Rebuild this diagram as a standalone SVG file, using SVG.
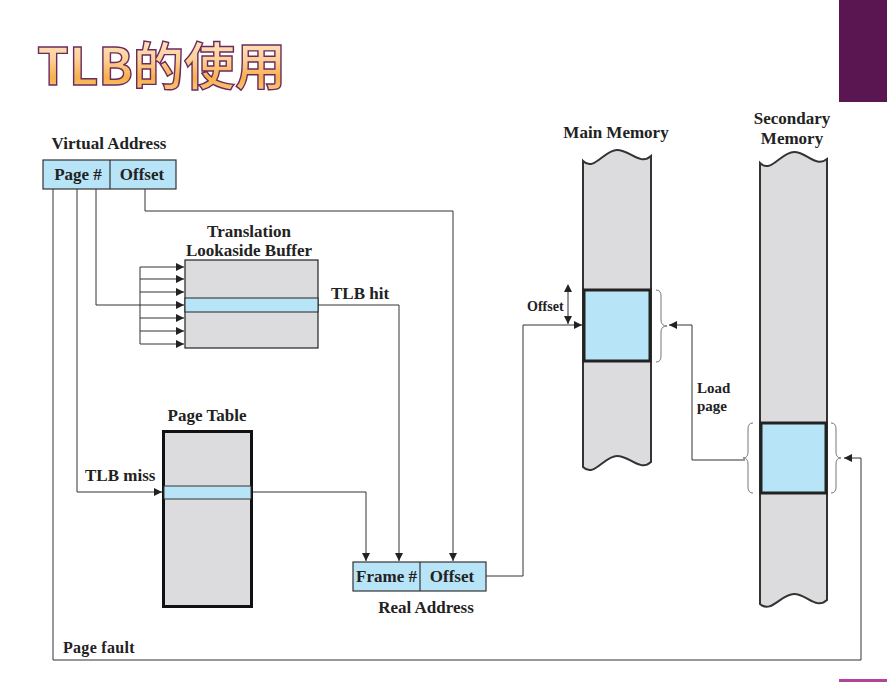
<svg xmlns="http://www.w3.org/2000/svg" width="887" height="682" viewBox="0 0 887 682">
<defs>
<linearGradient id="tg" x1="0" y1="0" x2="0" y2="1">
<stop offset="0" stop-color="#fff1dc"/>
<stop offset="0.45" stop-color="#fcd098"/>
<stop offset="0.7" stop-color="#f7b04a"/>
<stop offset="1" stop-color="#fbd6a0"/>
</linearGradient>
<marker id="ah" viewBox="0 0 10 10" refX="10" refY="5" markerWidth="8" markerHeight="8" markerUnits="userSpaceOnUse" orient="auto">
<path d="M0,0 L10,5 L0,10 z" fill="#222"/>
</marker>
<marker id="as" viewBox="0 0 10 10" refX="0" refY="5" markerWidth="8" markerHeight="8" markerUnits="userSpaceOnUse" orient="auto-start-reverse">
<path d="M0,0 L10,5 L0,10 z" fill="#222"/>
</marker>
</defs>
<style>
text.t{font-family:'Liberation Serif','Times New Roman',Tinos,'DejaVu Serif','Noto Serif',serif;font-weight:700;fill:#222;}
.ln{fill:none;stroke:#333;stroke-width:1;}
.box{fill:#b8e4f8;stroke:#333;stroke-width:1.2;}
.gray{fill:#dcdcde;stroke:#222;stroke-width:1.2;}
.mem{fill:#dcdcde;stroke:#333;stroke-width:2;}
.blk{fill:#b8e4f8;stroke:#222;stroke-width:3;}
.br{fill:none;stroke:#777;stroke-width:1;}
</style>
<rect width="887" height="682" fill="#fff"/>
<rect x="839" y="0" width="48" height="102" fill="#5a1650"/>
<rect x="839" y="679" width="48" height="3" fill="#b0449c"/>
<text x="37" y="85" font-family="Noto Sans CJK SC, sans-serif" font-size="51" font-weight="bold" fill="url(#tg)" stroke="#6b2a5e" stroke-width="1.4">TLB的使用</text>

<g id="connectors">
<path class="ln" d="M145,189 V211 H453 V561" marker-end="url(#ah)"/>
<path class="ln" d="M96,189 V305 H184" marker-end="url(#ah)"/>
<path class="ln" d="M140,267 V344"/>
<path class="ln" d="M140,267 H184" marker-end="url(#ah)"/>
<path class="ln" d="M140,279 H184" marker-end="url(#ah)"/>
<path class="ln" d="M140,292 H184" marker-end="url(#ah)"/>
<path class="ln" d="M140,318 H184" marker-end="url(#ah)"/>
<path class="ln" d="M140,331 H184" marker-end="url(#ah)"/>
<path class="ln" d="M140,344 H184" marker-end="url(#ah)"/>
<path class="ln" d="M77,189 V492 H162" marker-end="url(#ah)"/>
<path class="ln" d="M53,189 V660 H861 V458 H844" marker-end="url(#ah)"/>
<path class="ln" d="M318,305 H399 V561" marker-end="url(#ah)"/>
<path class="ln" d="M252,492 H366 V561" marker-end="url(#ah)"/>
<path class="ln" d="M486,576 H523 V325 H582" marker-end="url(#ah)"/>
<path class="ln" d="M745,460 H692 V325 H669" marker-end="url(#ah)"/>
<path class="ln" d="M568,292 V324" marker-start="url(#as)" marker-end="url(#ah)"/>
</g>

<g id="virtual-address">
<text class="t" x="109" y="149" font-size="17" text-anchor="middle">Virtual Address</text>
<rect class="box" x="43" y="160" width="133" height="29"/>
<line x1="110" y1="160" x2="110" y2="189" stroke="#333" stroke-width="1.2"/>
<text class="t" x="78" y="180" font-size="17" text-anchor="middle">Page #</text>
<text class="t" x="142" y="180" font-size="17" text-anchor="middle">Offset</text>
</g>

<g id="tlb">
<text class="t" x="249" y="237" font-size="17" text-anchor="middle">Translation</text>
<text class="t" x="249" y="256" font-size="17" text-anchor="middle">Lookaside Buffer</text>
<rect class="gray" x="185" y="260" width="133" height="88"/>
<rect x="185" y="298" width="133" height="14" fill="#b8e4f8" stroke="#222" stroke-width="1"/>
<text class="t" x="331" y="299" font-size="17">TLB hit</text>
</g>

<g id="page-table">
<text class="t" x="207" y="421" font-size="17" text-anchor="middle">Page Table</text>
<rect x="163.5" y="431.5" width="88" height="175" fill="#dcdcde" stroke="#111" stroke-width="3"/>
<rect x="164" y="486" width="87" height="13" fill="#b8e4f8" stroke="#333" stroke-width="1"/>
<text class="t" x="85" y="481" font-size="17">TLB miss</text>
</g>

<g id="real-address">
<rect class="box" x="353" y="562" width="133" height="29"/>
<line x1="420" y1="562" x2="420" y2="591" stroke="#333" stroke-width="1.2"/>
<text class="t" x="386.5" y="582" font-size="17" text-anchor="middle">Frame #</text>
<text class="t" x="452" y="582" font-size="17" text-anchor="middle">Offset</text>
<text class="t" x="426" y="613" font-size="17" text-anchor="middle">Real Address</text>
</g>

<g id="main-memory">
<text class="t" x="616" y="138" font-size="17" text-anchor="middle">Main Memory</text>
<path class="mem" d="M583,161 C594,172 604,150 617,150 C630,150 640,166 651,156 V462 C640,472 630,456 617,456 C604,456 594,478 583,467 Z"/>
<rect class="blk" x="584" y="290" width="66" height="71"/>
<path class="br" d="M656,290 Q661,290 661,296 L661,320 Q661,326 667,326 Q661,326 661,332 L661,356 Q661,362 656,362"/>
<text class="t" x="527" y="311" font-size="14">Offset</text>
<text class="t" x="697" y="393" font-size="15">Load</text>
<text class="t" x="697" y="411" font-size="15">page</text>
</g>

<g id="secondary-memory">
<text class="t" x="792" y="124" font-size="17" text-anchor="middle">Secondary</text>
<text class="t" x="792" y="144" font-size="17" text-anchor="middle">Memory</text>
<path class="mem" d="M760,163 C771,174 781,152 794,152 C807,152 816,168 827,159 V600 C816,610 807,594 794,594 C781,594 771,614 760,604 Z"/>
<rect class="blk" x="761" y="423" width="65" height="70"/>
<path class="br" d="M753,423 Q748,423 748,429 L748,452 Q748,458 743,458 Q748,458 748,464 L748,487 Q748,493 753,493"/>
<path class="br" d="M831,423 Q836,423 836,429 L836,452 Q836,458 841,458 Q836,458 836,464 L836,487 Q836,493 831,493"/>
<text class="t" x="63" y="653" font-size="16" letter-spacing="0.3">Page fault</text>
</g>
</svg>
